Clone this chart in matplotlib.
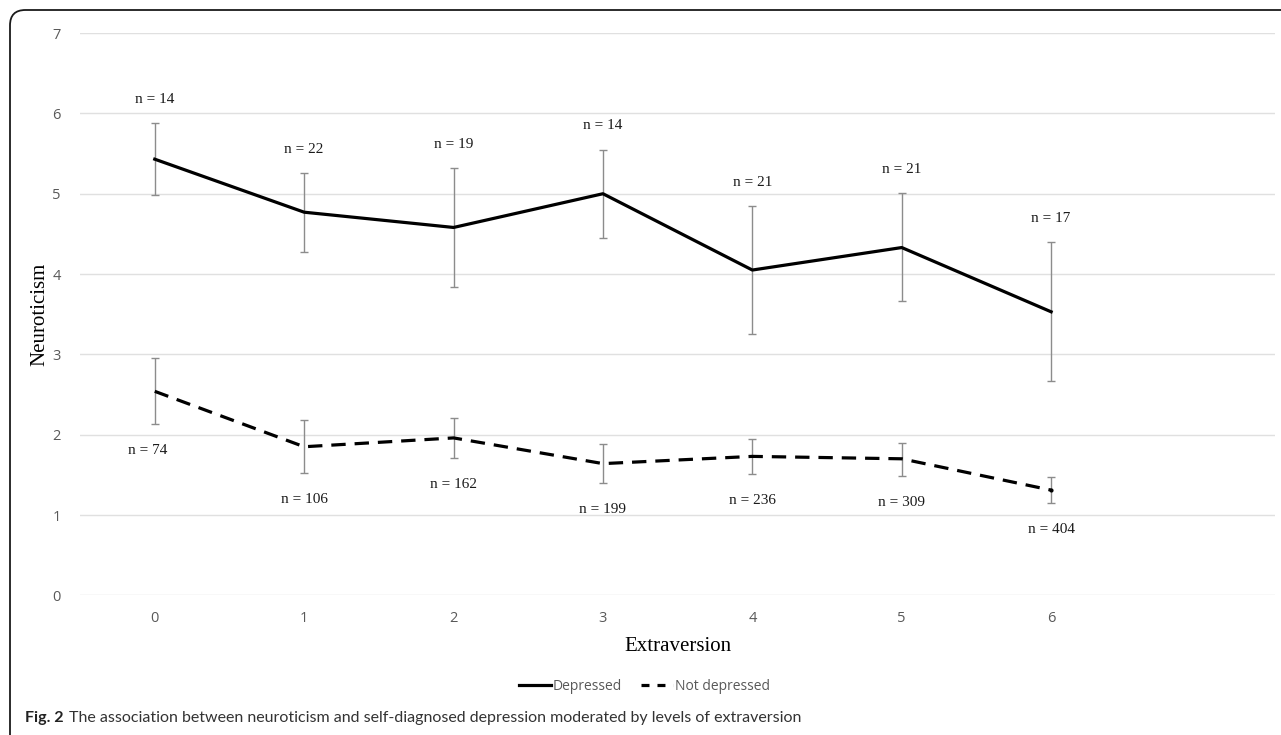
"""
Neuroticism by extraversion level, split by self-diagnosed depression.
Recreates Fig. 2 (line chart with error bars and group sizes).
"""

import matplotlib.pyplot as plt
from matplotlib.patches import FancyBboxPatch
from matplotlib.lines import Line2D

extraversion = [0, 1, 2, 3, 4, 5, 6]

dep_mean = [5.43, 4.77, 4.58, 5.00, 4.05, 4.33, 3.53]
dep_hi = [5.88, 5.26, 5.32, 5.55, 4.85, 5.01, 4.40]
dep_lo = [4.99, 4.28, 3.84, 4.45, 3.25, 3.67, 2.67]
dep_n = [14, 22, 19, 14, 21, 21, 17]

nodep_mean = [2.54, 1.85, 1.96, 1.64, 1.73, 1.70, 1.31]
nodep_hi = [2.95, 2.18, 2.21, 1.88, 1.95, 1.90, 1.47]
nodep_lo = [2.13, 1.52, 1.71, 1.40, 1.51, 1.49, 1.15]
nodep_n = [74, 106, 162, 199, 236, 309, 404]

y_ticks = [0, 1, 2, 3, 4, 5, 6, 7]

SERIF = "Liberation Serif"
SANS = "Open Sans"
TICK_GREY = "#595959"
ERR_GREY = "#8c8c8c"


def errbar(ax, mean, lo, hi):
    yerr = [[m - l for m, l in zip(mean, lo)], [h - m for m, h in zip(mean, hi)]]
    ax.errorbar(extraversion, mean, yerr=yerr, fmt="none", ecolor=ERR_GREY,
                elinewidth=1.0, capsize=3.2, capthick=1.0, zorder=2)


def main():
    fig = plt.figure(figsize=(12.81, 7.35), dpi=100)
    ax = fig.add_axes([0.0625, 0.19, 0.933, 0.765])

    errbar(ax, dep_mean, dep_lo, dep_hi)
    errbar(ax, nodep_mean, nodep_lo, nodep_hi)

    ax.plot(extraversion, dep_mean, color="black", lw=2.3,
            solid_joinstyle="round", zorder=3, label="Depressed")
    ax.plot(extraversion, nodep_mean, color="black", lw=2.3,
            dashes=(4.5, 2.8), dash_capstyle="butt", zorder=3,
            label="Not depressed")
    ax.plot(extraversion[-1], nodep_mean[-1], "o", color="black", ms=2, zorder=4)

    for x, h, n in zip(extraversion, dep_hi, dep_n):
        ax.annotate(f"n = {n}", (x, h), xytext=(0, 17), textcoords="offset points",
                    ha="center", va="center", family=SERIF, fontsize=11,
                    color="#1a1a1a")
    for x, l, n in zip(extraversion, nodep_lo, nodep_n):
        dx = -5 if x == 0 else 0
        ax.annotate(f"n = {n}", (x, l), xytext=(dx, -19), textcoords="offset points",
                    ha="center", va="center", family=SERIF, fontsize=11,
                    color="#1a1a1a")

    ax.set_xlim(-0.5, 7.5)
    ax.set_ylim(0, 7)
    ax.set_xticks(extraversion)
    ax.set_yticks(y_ticks)
    ax.grid(axis="y", color="#e0e0e0", lw=1.0)
    ax.set_axisbelow(True)
    for s in ax.spines.values():
        s.set_visible(False)
    ax.tick_params(length=0, labelsize=10.5, labelcolor=TICK_GREY)
    ax.tick_params(axis="x", pad=11)
    ax.tick_params(axis="y", pad=14)
    for lab in ax.get_xticklabels() + ax.get_yticklabels():
        lab.set_family(SANS)

    ax.set_xlabel("Extraversion", family=SERIF, fontsize=15, labelpad=8)
    ax.set_ylabel("Neuroticism", family=SERIF, fontsize=15, labelpad=2)

    handles = [Line2D([], [], color="black", lw=2.3),
               Line2D([], [], color="black", lw=2.3, dashes=(2.5, 2.5))]
    leg = fig.legend(handles, ["Depressed", "Not depressed"], loc="center",
                     bbox_to_anchor=(0.503, 0.066), ncol=2, frameon=False,
                     handlelength=2.3, handletextpad=0.1, columnspacing=1.4,
                     prop={"family": SANS, "size": 10})
    for t in leg.get_texts():
        t.set_color(TICK_GREY)

    # rounded frame, open on the right and bottom
    frame = FancyBboxPatch((10 / 1281, -0.2), 1.3, 0.2 + 1 - 10 / 735,
                           boxstyle="round,pad=0,rounding_size=0.012",
                           transform=fig.transFigure, fill=False,
                           ec="#1a1a1a", lw=1.3, mutation_aspect=1281 / 735)
    fig.add_artist(frame)

    cap_y = 1 - 718 / 735
    bold = fig.text(25 / 1281, cap_y, "Fig. 2", ha="left", va="center",
                    fontsize=11.5, family="Lato", weight="bold", color="#222222")
    renderer = fig.canvas.get_renderer()
    bb = bold.get_window_extent(renderer)
    fig.text(bb.x1 / 1281 + 5 / 1281, cap_y,
             "The association between neuroticism and self-diagnosed "
             "depression moderated by levels of extraversion",
             ha="left", va="center", fontsize=11.5, family="Lato", color="#333333")

    fig.savefig("out.png", dpi=100)
    plt.close(fig)


if __name__ == "__main__":
    main()
